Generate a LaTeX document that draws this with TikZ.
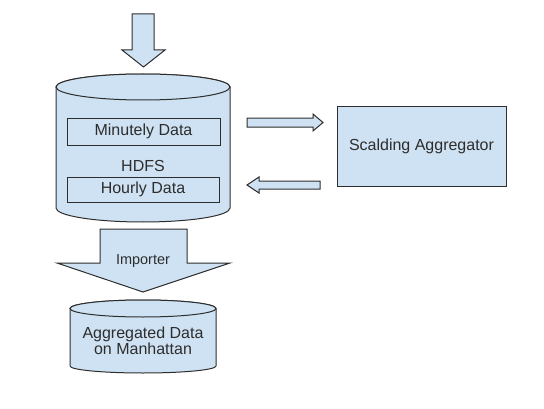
\documentclass[tikz,border=0pt]{standalone}
\usepackage{fontspec}
\setmainfont{Liberation Sans}
\usepackage{xcolor}
\definecolor{boxfill}{RGB}{207,226,243}
\definecolor{boxline}{RGB}{45,45,45}

\begin{document}
\begin{tikzpicture}[x=1pt,y=1pt,
  blk/.style={draw=boxline, fill=boxfill, line width=1pt, line join=miter},
  txt/.style={font=\fontsize{16}{15.5}\selectfont, text=boxline, align=center, inner sep=0pt}]

\useasboundingbox (0,0) rectangle (544,408);

% input arrow
\draw[blk] (132,394) -- (154,394) -- (154,358) -- (165,358) -- (143.5,341) -- (122,358) -- (132,358) -- cycle;

% HDFS cylinder
\draw[blk] (56,321) -- (56,200) arc (180:360:87 and 14) -- (230,321) arc (0:180:87 and 13) -- cycle;
\draw[blk] (143,321) ellipse (87 and 13);

\node[blk, txt, minimum width=153pt, minimum height=27pt] (minutely) at (143.5,276.5) {Minutely Data};
\node[txt] (hdfs) at (143,242) {HDFS};
\node[blk, txt, minimum width=152pt, minimum height=25pt] (hourly) at (143,218.5) {Hourly Data};

% aggregator
\node[blk, txt, minimum width=169pt, minimum height=80pt] (scalding) at (421.5,261.5) {Scalding Aggregator};

\draw[blk] (247,290) -- (313,290) -- (313,294) -- (323,285.5) -- (313,277) -- (313,281) -- (247,281) -- cycle;
\draw[blk] (320,227) -- (259,227) -- (259,231) -- (247,223) -- (259,215) -- (259,219) -- (320,219) -- cycle;

% importer arrow
\draw[blk] (100,179) -- (187,179) -- (187,145) -- (230,145) -- (143,116) -- (57,145) -- (100,145) -- cycle;
\node[txt, font=\fontsize{14.5}{16}\selectfont] (importer) at (143,146.5) {Importer};

% Manhattan cylinder
\draw[blk] (70,99.5) -- (70,42) arc (180:360:73 and 7) -- (216,99.5) arc (0:180:73 and 8.5) -- cycle;
\draw[blk] (143,99.5) ellipse (73 and 8.5);
\node[txt] (manhattan) at (143,67) {Aggregated Data\\on Manhattan};

\end{tikzpicture}
\end{document}
